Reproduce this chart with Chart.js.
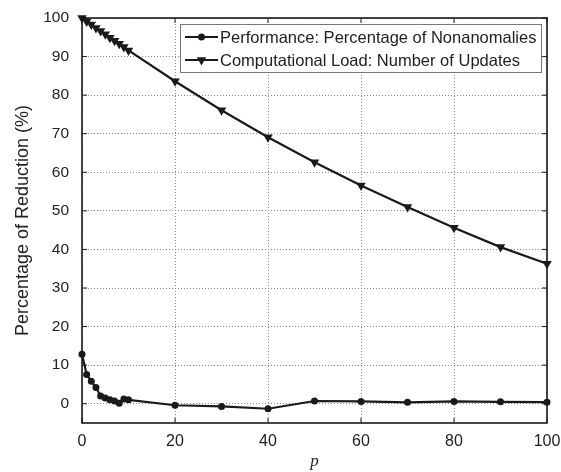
<!DOCTYPE html>
<html>
<head>
<meta charset="utf-8">
<script src="https://cdn.jsdelivr.net/npm/chart.js@4.4.0/dist/chart.umd.min.js"></script>
<style>
  html, body { margin: 0; padding: 0; background: #fff; }
  #wrap { width: 561px; height: 472px; }
</style>
</head>
<body>
<div id="wrap"><canvas id="reduction"></canvas></div>
<script>
// p values (x axis) and the two curves
const pValues = [0, 1, 2, 3, 4, 5, 6, 7, 8, 9, 10, 20, 30, 40, 50, 60, 70, 80, 90, 100];
const nonanomalies = [12.8, 7.6, 5.8, 4.2, 2.0, 1.5, 1.0, 0.7, 0.1, 1.2, 1.0, -0.4, -0.7, -1.3, 0.7, 0.6, 0.35, 0.6, 0.5, 0.4];
const updates = [100, 99.1, 98.3, 97.4, 96.6, 95.8, 94.9, 94.1, 93.3, 92.5, 91.6, 83.6, 76.1, 69.1, 62.6, 56.6, 51.0, 45.6, 40.6, 36.3];

const xTicks = [0, 20, 40, 60, 80, 100];
const yTicks = [0, 10, 20, 30, 40, 50, 60, 70, 80, 90, 100];

const seriesLabels = [
  "Performance: Percentage of Nonanomalies",
  "Computational Load: Number of Updates",
];

const ink = "#1a1a1a";
const sans = "'Liberation Sans', Arial, sans-serif";

function toPoints(values) {
  return pValues.map((p, i) => ({ x: p, y: values[i] }));
}

// box around the plot with inward ticks on all four sides
const frameTicks = {
  id: "frameTicks",
  afterDatasetsDraw(chart) {
    const { ctx, chartArea: a, scales } = chart;
    const len = 5;
    ctx.save();
    ctx.strokeStyle = ink;
    ctx.lineWidth = 1;
    ctx.beginPath();
    for (const v of xTicks) {
      const px = scales.x.getPixelForValue(v);
      ctx.moveTo(px, a.bottom);
      ctx.lineTo(px, a.bottom - len);
      ctx.moveTo(px, a.top);
      ctx.lineTo(px, a.top + len);
    }
    for (const v of yTicks) {
      const py = scales.y.getPixelForValue(v);
      ctx.moveTo(a.left, py);
      ctx.lineTo(a.left + len, py);
      ctx.moveTo(a.right, py);
      ctx.lineTo(a.right - len, py);
    }
    ctx.stroke();
    ctx.lineWidth = 1.6;
    ctx.strokeRect(a.left, a.top, a.right - a.left, a.bottom - a.top);
    ctx.restore();
  },
};

// legend box in the top right corner, line + marker samples
const boxedLegend = {
  id: "boxedLegend",
  afterDraw(chart) {
    const { ctx, chartArea: a } = chart;
    const w = 361;
    const h = 48;
    const left = a.right - 6 - w;
    const top = a.top + 6;
    ctx.save();
    ctx.fillStyle = "#fff";
    ctx.fillRect(left, top, w, h);
    ctx.strokeStyle = "#777";
    ctx.lineWidth = 1;
    ctx.strokeRect(left + 0.5, top + 0.5, w, h);

    chart.data.datasets.forEach((ds, i) => {
      const cy = top + 13 + i * 23;
      const x0 = left + 5;
      const x1 = left + 38;
      ctx.strokeStyle = ds.borderColor;
      ctx.lineWidth = ds.borderWidth;
      ctx.beginPath();
      ctx.moveTo(x0, cy);
      ctx.lineTo(x1, cy);
      ctx.stroke();
      ctx.fillStyle = ds.pointBackgroundColor;
      Chart.helpers.drawPoint(ctx, {
        pointStyle: ds.pointStyle,
        rotation: ds.pointRotation,
        radius: ds.pointRadius,
        borderWidth: 0,
      }, (x0 + x1) / 2, cy);
      ctx.fillStyle = "#222";
      ctx.font = "16.5px " + sans;
      ctx.textBaseline = "middle";
      ctx.textAlign = "left";
      ctx.fillText(ds.label, x1 + 2, cy + 1);
    });
    ctx.restore();
  },
};

new Chart(document.getElementById("reduction"), {
  type: "line",
  data: {
    datasets: [
      {
        label: seriesLabels[0],
        data: toPoints(nonanomalies),
        borderColor: ink,
        borderWidth: 2.2,
        pointStyle: "circle",
        pointRotation: 0,
        pointRadius: 3.5,
        pointBackgroundColor: ink,
        pointBorderWidth: 0,
        clip: false,
      },
      {
        label: seriesLabels[1],
        data: toPoints(updates),
        borderColor: ink,
        borderWidth: 2.2,
        pointStyle: "triangle",
        pointRotation: 180,
        pointRadius: 5.5,
        pointBackgroundColor: ink,
        pointBorderWidth: 0,
        clip: false,
      },
    ],
  },
  options: {
    responsive: true,
    maintainAspectRatio: false,
    devicePixelRatio: 1,
    animation: false,
    layout: { padding: { top: 18, right: 14, left: 0, bottom: 0 } },
    plugins: {
      legend: { display: false },
      tooltip: { enabled: false },
    },
    scales: {
      x: {
        type: "linear",
        min: 0,
        max: 100,
        afterBuildTicks: (scale) => {
          scale.ticks = xTicks.map((v) => ({ value: v }));
        },
        afterFit: (scale) => {
          scale.height = 49;
          scale.paddingLeft = 0;
          scale.paddingRight = 0;
        },
        grid: {
          color: "#8a8a8a",
          lineWidth: 1,
          drawTicks: false,
        },
        border: { display: false, dash: [1, 2] },
        ticks: {
          padding: 9,
          color: "#222",
          font: { family: sans, size: 16 },
          maxRotation: 0,
        },
        title: {
          display: true,
          text: "p",
          color: "#222",
          font: { family: "'Liberation Serif', 'Times New Roman', serif", size: 17, style: "italic" },
          padding: { top: 0, bottom: 0 },
        },
      },
      y: {
        type: "linear",
        min: -5,
        max: 100,
        afterBuildTicks: (scale) => {
          scale.ticks = yTicks.map((v) => ({ value: v }));
        },
        afterFit: (scale) => {
          scale.width = 82;
          scale.paddingTop = 0;
          scale.paddingBottom = 0;
        },
        grid: {
          color: "#8a8a8a",
          lineWidth: 1,
          drawTicks: false,
        },
        border: { display: false, dash: [1, 2] },
        ticks: {
          padding: 13,
          color: "#222",
          font: { family: sans, size: 15.5 },
        },
        title: {
          display: true,
          text: "Percentage of Reduction (%)",
          color: "#222",
          font: { family: sans, size: 18 },
          padding: { top: 12, bottom: 0 },
        },
      },
    },
  },
  plugins: [frameTicks, boxedLegend],
});
</script>
</body>
</html>
